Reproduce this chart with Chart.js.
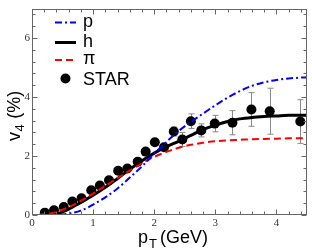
<!DOCTYPE html>
<html><head><meta charset="utf-8">
<script src="https://cdn.jsdelivr.net/npm/chart.js@4/dist/chart.umd.min.js"></script>
<style>html,body{margin:0;padding:0;background:#fff}#wrap{width:312px;height:249px}</style>
</head><body><div id="wrap"><canvas id="c" width="312" height="249"></canvas></div>
<script>
// ---- data ----
const pX = [0.45,0.6,0.8,1.0,1.2,1.4,1.6,1.8,2.0,2.2,2.4,2.6,2.8,3.0,3.2,3.4,3.6,3.8,4.0,4.2,4.4,4.5];
const pY = [0,0.05,0.15,0.35,0.6,0.9,1.27,1.65,2.08,2.48,2.85,3.16,3.44,3.72,3.98,4.2,4.38,4.5,4.58,4.63,4.66,4.67];
const hX = [0.3,0.4,0.6,0.8,1.0,1.2,1.4,1.6,1.8,2.0,2.2,2.4,2.6,2.8,3.0,3.2,3.4,3.6,3.8,4.0,4.2,4.4,4.5];
const hY = [0,0.03,0.2,0.43,0.67,0.94,1.24,1.55,1.84,2.1,2.32,2.5,2.7,2.9,3.05,3.17,3.26,3.31,3.34,3.36,3.38,3.38,3.38];
const piX = [0.1,0.3,0.5,0.7,0.9,1.1,1.3,1.5,1.7,1.9,2.0,2.2,2.4,2.6,2.8,3.0,3.2,3.4,3.6,3.8,4.0,4.2,4.4,4.5];
const piY = [0,0.05,0.18,0.37,0.6,0.86,1.12,1.38,1.63,1.87,1.97,2.14,2.28,2.38,2.45,2.5,2.53,2.55,2.57,2.58,2.59,2.6,2.6,2.6];
const starX = [0.21,0.36,0.52,0.66,0.81,0.97,1.11,1.26,1.41,1.56,1.73,1.86,2.01,2.16,2.32,2.46,2.60,2.77,2.99,3.28,3.59,3.89,4.39];
const starY = [0.08,0.16,0.27,0.46,0.57,0.84,1.00,1.18,1.50,1.58,1.81,2.15,2.47,2.30,2.83,2.56,3.18,2.87,3.10,3.13,3.58,3.52,3.17];
const starErr = [0,0,0,0,0,0,0,0,0,0,0,0,0,0.08,0.15,0.24,0.25,0.22,0.28,0.41,0.57,0.78,0.74];
const xTicks = [0,1,2,3,4];
const yTicks = [0,2,4,6];
const legendLabels = ['p','h','\u03c0','STAR'];

const pts = (xs, ys) => xs.map((x,i)=>({x:x, y:ys[i]}));

const decor = {
  id:'decor',
  beforeDatasetsDraw(chart){
    const {ctx, scales:{x,y}} = chart;
    ctx.save();
    ctx.strokeStyle = '#888'; ctx.lineWidth = 1;
    starX.forEach((sx,i)=>{
      const e = starErr[i]; if(!e) return;
      const px = Math.round(x.getPixelForValue(sx))+0.5;
      const t = y.getPixelForValue(starY[i]+e), b = y.getPixelForValue(starY[i]-e);
      ctx.beginPath();
      ctx.moveTo(px,t); ctx.lineTo(px,b);
      ctx.moveTo(px-3,t); ctx.lineTo(px+3,t);
      ctx.moveTo(px-3,b); ctx.lineTo(px+3,b);
      ctx.stroke();
    });
    ctx.restore();
  },
  afterDraw(chart){
    const {ctx, chartArea:a, scales:{x,y}} = chart;
    ctx.save();
    ctx.strokeStyle = '#666'; ctx.lineWidth = 1;
    const L = Math.round(a.left)+0.5, R = Math.round(a.right)-0.5, T = Math.round(a.top)+0.5, B = Math.round(a.bottom)-0.5;
    ctx.strokeRect(L, T, R-L, B-T);
    ctx.beginPath();
    for(let v=0; v<=4.5+1e-9; v+=0.2){
      const px = Math.round(x.getPixelForValue(v))+0.5;
      const major = Math.abs(v-Math.round(v))<1e-6;
      const len = major?5:3;
      ctx.moveTo(px,B); ctx.lineTo(px,B-len);
      ctx.moveTo(px,T); ctx.lineTo(px,T+len);
    }
    for(let v=0; v<=7+1e-9; v+=0.4){
      const py = Math.round(y.getPixelForValue(v))+0.5;
      const major = Math.abs(v/2-Math.round(v/2))<1e-6;
      const len = major?5:3;
      ctx.moveTo(L,py); ctx.lineTo(L+len,py);
      ctx.moveTo(R,py); ctx.lineTo(R-len,py);
    }
    ctx.stroke();

    // legend
    const font = '18px "Liberation Sans", Arial, sans-serif';
    ctx.font = font; ctx.fillStyle = '#000'; ctx.textBaseline = 'alphabetic';
    const lx0 = 55, lx1 = 76, tx = 83;
    const rows = [
      {y:22.5, base:27, color:'#0000ff', dash:[7,3,2,3], w:2},
      {y:42.5, base:47, color:'#000', dash:[], w:3},
      {y:60, base:64, color:'#ff0000', dash:[7,4], w:2},
    ];
    rows.forEach((r,i)=>{
      ctx.beginPath(); ctx.setLineDash(r.dash); ctx.strokeStyle = r.color; ctx.lineWidth = r.w;
      ctx.moveTo(lx0, r.y); ctx.lineTo(lx1, r.y); ctx.stroke();
      ctx.setLineDash([]);
      ctx.fillText(legendLabels[i], tx, r.base);
    });
    ctx.beginPath(); ctx.arc(65.5, 78.5, 5, 0, Math.PI*2); ctx.fill();
    ctx.fillText(legendLabels[3], tx, 85);

    // axis titles
    ctx.font = font;
    ctx.fillText('p', 138, 243);
    ctx.font = '13px "Liberation Sans", Arial, sans-serif';
    ctx.fillText('T', 149, 248);
    ctx.font = font;
    ctx.fillText(' (GeV)', 155, 243);

    ctx.save();
    ctx.translate(20, 141);
    ctx.rotate(-Math.PI/2);
    ctx.fillText('v', 0, 0);
    const vw = ctx.measureText('v').width;
    ctx.font = '13px "Liberation Sans", Arial, sans-serif';
    ctx.fillText('4', vw+0.5, 4);
    const fw = ctx.measureText('4').width;
    ctx.font = font;
    ctx.fillText(' (%)', vw+fw+1, 0);
    ctx.restore();
    ctx.restore();
  }
};

new Chart(document.getElementById('c'), {
  type:'scatter',
  data:{datasets:[
    {label:'p', data:pts(pX,pY), showLine:true, borderColor:'#0000ff', borderWidth:2, borderDash:[7,3,2,3], pointRadius:0, cubicInterpolationMode:'monotone', fill:false},
    {label:'\u03c0', data:pts(piX,piY), showLine:true, borderColor:'#ff0000', borderWidth:2, borderDash:[7,4], pointRadius:0, cubicInterpolationMode:'monotone', fill:false},
    {label:'h', data:pts(hX,hY), showLine:true, borderColor:'#000', borderWidth:3, pointRadius:0, cubicInterpolationMode:'monotone', fill:false},
    {label:'STAR', data:pts(starX,starY), showLine:false, pointRadius:5, pointBackgroundColor:'#000', pointBorderColor:'#000', pointBorderWidth:0}
  ]},
  options:{
    animation:false, responsive:false, maintainAspectRatio:false, devicePixelRatio:1,
    layout:{padding:{top:2,right:2,left:0,bottom:0}},
    plugins:{legend:{display:false}, tooltip:{enabled:false}},
    scales:{
      x:{type:'linear', min:0, max:4.5,
        afterBuildTicks:s=>{s.ticks = xTicks.map(v=>({value:v}));},
        afterFit:s=>{s.height = 34;},
        grid:{display:false, drawTicks:false}, border:{display:false},
        ticks:{font:{family:'"Liberation Serif", serif', size:11}, color:'#333', padding:2, maxRotation:0, autoSkip:false}},
      y:{type:'linear', min:0, max:7,
        afterBuildTicks:s=>{s.ticks = yTicks.map(v=>({value:v}));},
        afterFit:s=>{s.width = 32;},
        grid:{display:false, drawTicks:false}, border:{display:false},
        ticks:{font:{family:'"Liberation Serif", serif', size:11}, color:'#333', padding:2, autoSkip:false}}
    }
  },
  plugins:[decor]
});
</script></body></html>
